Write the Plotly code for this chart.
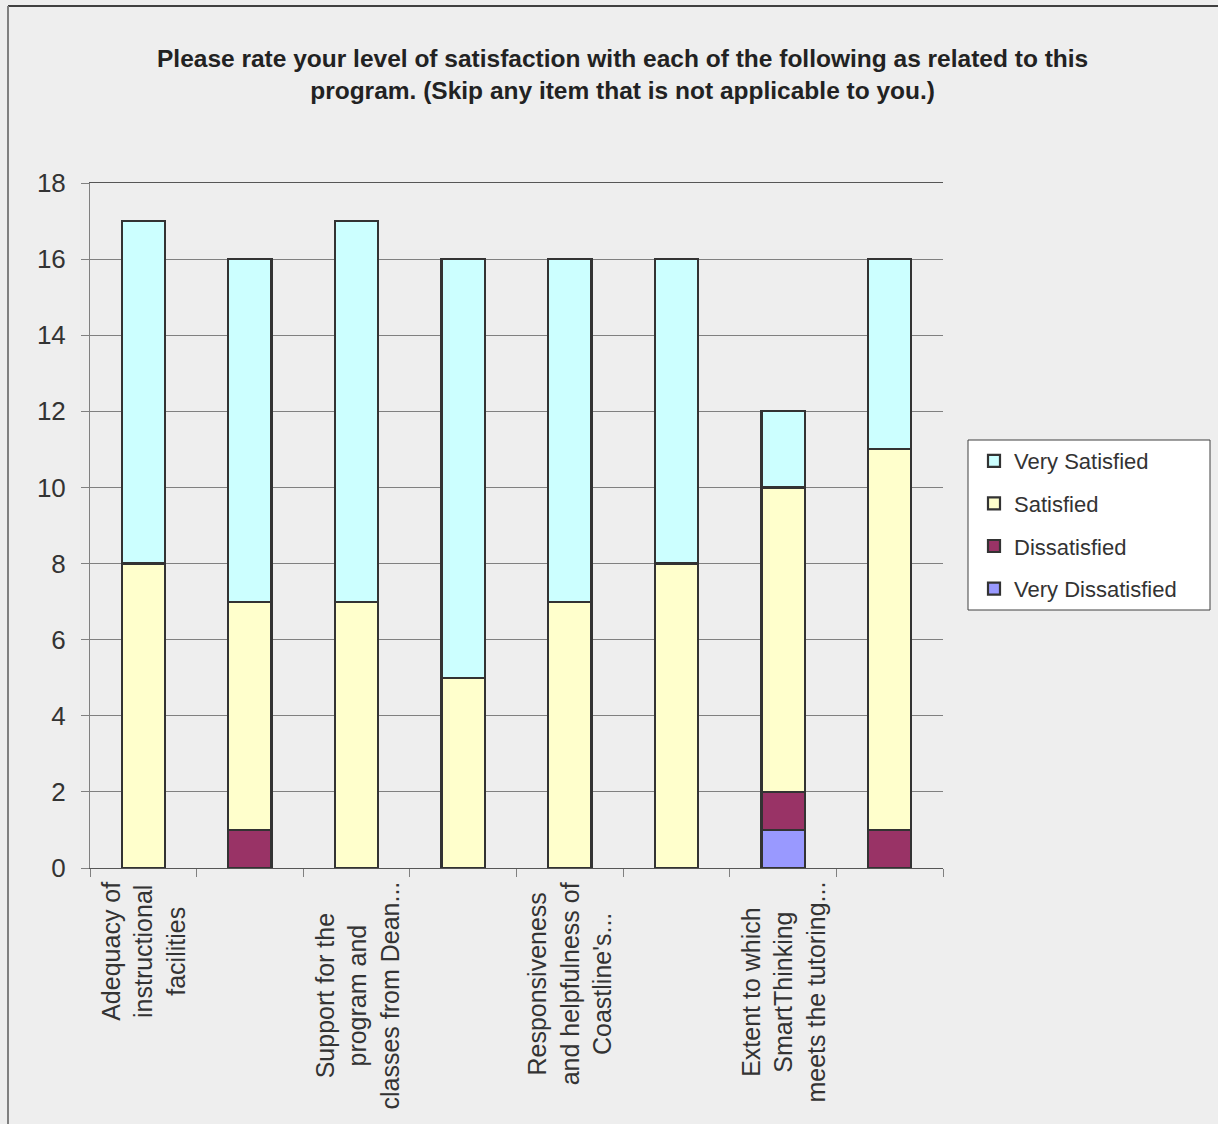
import plotly.graph_objects as go

# ---- data ----
categories = [
    "Adequacy of instructional facilities",
    "Item 2",
    "Support for the program and classes from Dean...",
    "Item 4",
    "Responsiveness and helpfulness of Coastline's...",
    "Item 6",
    "Extent to which SmartThinking meets the tutoring...",
    "Item 8",
]
tick_labels = [
    "Adequacy of<br>instructional<br>facilities",
    "",
    "Support for the<br>program and<br>classes from Dean...",
    "",
    "Responsiveness<br>and helpfulness of<br>Coastline's...",
    "",
    "Extent to which<br>SmartThinking<br>meets the tutoring...",
    "",
]
very_dissatisfied = [0, 0, 0, 0, 0, 0, 1, 0]
dissatisfied = [0, 1, 0, 0, 0, 0, 1, 1]
satisfied = [8, 6, 7, 5, 7, 8, 8, 10]
very_satisfied = [9, 9, 10, 11, 9, 8, 2, 5]

series = [
    ("Very Dissatisfied", very_dissatisfied, "#9999FF", 4),
    ("Dissatisfied", dissatisfied, "#993366", 3),
    ("Satisfied", satisfied, "#FFFFCC", 2),
    ("Very Satisfied", very_satisfied, "#CCFFFF", 1),
]

FONT = "Liberation Sans, Arial, sans-serif"
TXT = "#333333"
BG = "#EEEEEE"

fig = go.Figure()
for name, vals, color, rank in series:
    fig.add_trace(go.Bar(
        x=categories, y=vals, name=name, legendgroup=name, legendrank=rank,
        marker=dict(color=color, line=dict(color="#333333", width=2.2)),
    ))

# plot area: x 90..943, y 183..868 (px)
W, H = 1218, 1124
L, R, T, B = 90, W - 943, 183, H - 868
pw, ph = W - L - R, H - T - B


def px_x(px):
    return (px - L) / pw


def px_y(py):
    return (H - B - py) / ph


shapes = [
    # outer chart border (top and left)
    dict(type="line", xref="paper", yref="paper", x0=px_x(8), x1=px_x(W + 5),
         y0=px_y(6), y1=px_y(6), line=dict(color="#404040", width=2)),
    dict(type="line", xref="paper", yref="paper", x0=px_x(8), x1=px_x(8),
         y0=px_y(6), y1=px_y(H + 5), line=dict(color="#808080", width=2)),
    # legend box
    dict(type="rect", xref="paper", yref="paper", x0=px_x(968), x1=px_x(1210),
         y0=px_y(610), y1=px_y(440), fillcolor="white",
         line=dict(color="#404040", width=1), layer="above"),
]

annotations = [
    dict(text="<b>Please rate your level of satisfaction with each of the following as related to this<br>"
              "program. (Skip any item that is not applicable to you.)</b>",
         xref="paper", yref="paper", x=px_x(622), y=px_y(43), xanchor="center", yanchor="top",
         showarrow=False, align="center", font=dict(family=FONT, size=24.5, color="#222222")),
]
for cat, lab in zip(categories, tick_labels):
    if lab:
        annotations.append(dict(
            text=lab, x=cat, xref="x", yref="paper", y=0, yshift=-12,
            xanchor="center", yanchor="top", textangle=-90, showarrow=False,
            align="center", font=dict(family=FONT, size=25, color=TXT)))

fig.update_layout(
    width=W, height=H,
    margin=dict(l=L, r=R, t=T, b=B, pad=0),
    barmode="stack", bargap=0.594,
    paper_bgcolor=BG, plot_bgcolor=BG,
    font=dict(family=FONT, color=TXT),
    showlegend=True,
    legend=dict(x=px_x(974), y=px_y(440), xanchor="left", yanchor="top",
                bgcolor="rgba(0,0,0,0)", borderwidth=0,
                traceorder="grouped", tracegroupgap=11,
                font=dict(family=FONT, size=22, color=TXT)),
    shapes=shapes, annotations=annotations,
)
fig.update_xaxes(
    type="category", showticklabels=False, ticks="outside", tickson="boundaries",
    ticklen=8, tickcolor="#808080", tickwidth=1,
    showline=True, linecolor="#555555", linewidth=1, mirror=True,
    showgrid=False, range=[-0.5, 7.5],
)
fig.update_yaxes(
    range=[0, 18], dtick=2, tick0=0, ticks="outside", ticklen=8, tickcolor="#808080",
    showline=True, linecolor="#808080", linewidth=1,
    showgrid=True, gridcolor="#808080", gridwidth=1, zeroline=False,
    tickfont=dict(family=FONT, size=26, color=TXT), ticklabelstandoff=10,
)

fig.write_html("out.html")
